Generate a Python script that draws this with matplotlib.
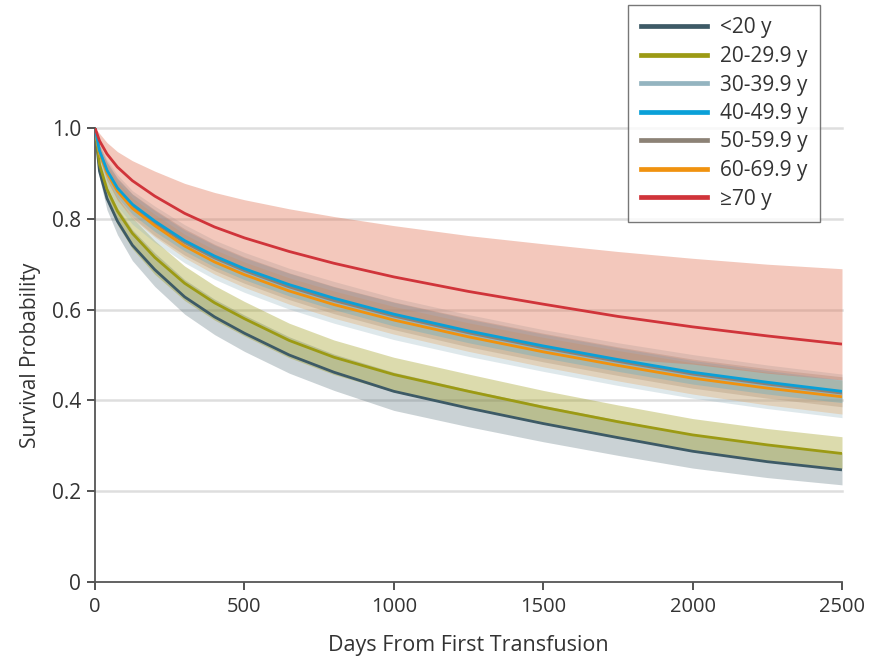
import matplotlib
matplotlib.use("Agg")
import matplotlib.pyplot as plt
import numpy as np

plt.rcParams['font.family'] = ['Open Sans', 'DejaVu Sans']

# --- DATA ---
days = [0, 15, 40, 75, 125, 200, 300, 400, 500, 650, 800, 1000, 1250, 1500, 1750, 2000, 2250, 2500]

labels = ["<20 y", "20-29.9 y", "30-39.9 y", "40-49.9 y", "50-59.9 y", "60-69.9 y", "\u226570 y"]
colors = ["#3d5a66", "#9c9a14", "#94b4c0", "#0aa0d8", "#8c8276", "#f0920f", "#d0343a"]
band_colors = ["#3d5a66", "#9c9a14", "#94b4c0", "#0aa0d8", "#8c8276", "#e8a050", "#e07050"]
band_alpha = [0.27, 0.35, 0.30, 0.20, 0.30, 0.30, 0.38]

surv_lt20 = [1.0, 0.905, 0.845, 0.795, 0.742, 0.688, 0.628, 0.584, 0.548, 0.50, 0.462, 0.42, 0.383, 0.349, 0.318, 0.288, 0.265, 0.247]
surv_20s = [1.0, 0.92, 0.865, 0.817, 0.768, 0.715, 0.658, 0.615, 0.58, 0.532, 0.495, 0.457, 0.42, 0.385, 0.353, 0.324, 0.302, 0.283]
surv_30s = [1.0, 0.945, 0.9, 0.862, 0.825, 0.788, 0.745, 0.71, 0.682, 0.646, 0.616, 0.58, 0.543, 0.51, 0.48, 0.453, 0.43, 0.41]
surv_40s = [1.0, 0.95, 0.907, 0.868, 0.832, 0.795, 0.752, 0.718, 0.69, 0.655, 0.625, 0.59, 0.553, 0.52, 0.49, 0.462, 0.44, 0.42]
surv_50s = [1.0, 0.948, 0.905, 0.866, 0.829, 0.791, 0.748, 0.714, 0.686, 0.65, 0.62, 0.586, 0.549, 0.516, 0.486, 0.458, 0.436, 0.416]
surv_60s = [1.0, 0.945, 0.901, 0.861, 0.823, 0.785, 0.74, 0.705, 0.677, 0.641, 0.611, 0.577, 0.54, 0.507, 0.477, 0.449, 0.427, 0.408]
surv_70p = [1.0, 0.972, 0.943, 0.914, 0.884, 0.85, 0.812, 0.782, 0.758, 0.728, 0.702, 0.672, 0.64, 0.612, 0.585, 0.562, 0.542, 0.524]

lo_lt20 = [1.0, 0.89, 0.82, 0.765, 0.708, 0.651, 0.59, 0.545, 0.508, 0.46, 0.422, 0.378, 0.342, 0.309, 0.279, 0.251, 0.23, 0.214]
hi_lt20 = [1.0, 0.92, 0.87, 0.825, 0.776, 0.725, 0.666, 0.623, 0.588, 0.54, 0.502, 0.462, 0.424, 0.389, 0.357, 0.325, 0.302, 0.285]
lo_20s = [1.0, 0.905, 0.84, 0.787, 0.734, 0.678, 0.62, 0.577, 0.542, 0.494, 0.457, 0.419, 0.383, 0.348, 0.317, 0.289, 0.268, 0.25]
hi_20s = [1.0, 0.935, 0.89, 0.847, 0.802, 0.752, 0.696, 0.653, 0.618, 0.57, 0.533, 0.495, 0.458, 0.422, 0.39, 0.36, 0.338, 0.32]
lo_30s = [1.0, 0.925, 0.87, 0.827, 0.788, 0.748, 0.703, 0.667, 0.638, 0.601, 0.57, 0.534, 0.497, 0.464, 0.433, 0.405, 0.382, 0.362]
hi_30s = [1.0, 0.965, 0.93, 0.897, 0.862, 0.828, 0.787, 0.753, 0.726, 0.691, 0.662, 0.626, 0.589, 0.556, 0.527, 0.501, 0.478, 0.458]
lo_40s = [1.0, 0.94, 0.89, 0.848, 0.81, 0.772, 0.729, 0.694, 0.666, 0.63, 0.6, 0.564, 0.527, 0.494, 0.464, 0.436, 0.414, 0.395]
hi_40s = [1.0, 0.96, 0.924, 0.888, 0.854, 0.818, 0.775, 0.742, 0.714, 0.68, 0.65, 0.616, 0.579, 0.546, 0.516, 0.488, 0.466, 0.445]
lo_50s = [1.0, 0.935, 0.885, 0.842, 0.803, 0.763, 0.72, 0.686, 0.658, 0.622, 0.591, 0.556, 0.518, 0.485, 0.455, 0.427, 0.405, 0.386]
hi_50s = [1.0, 0.962, 0.925, 0.89, 0.855, 0.82, 0.778, 0.744, 0.716, 0.681, 0.651, 0.617, 0.581, 0.548, 0.518, 0.491, 0.47, 0.452]
lo_60s = [1.0, 0.935, 0.885, 0.84, 0.8, 0.76, 0.714, 0.678, 0.649, 0.612, 0.581, 0.546, 0.508, 0.474, 0.443, 0.414, 0.39, 0.37]
hi_60s = [1.0, 0.955, 0.917, 0.882, 0.846, 0.81, 0.766, 0.732, 0.705, 0.67, 0.641, 0.607, 0.571, 0.539, 0.51, 0.483, 0.462, 0.444]
lo_70p = [1.0, 0.952, 0.912, 0.872, 0.834, 0.79, 0.745, 0.71, 0.68, 0.645, 0.615, 0.58, 0.545, 0.515, 0.492, 0.48, 0.46, 0.445]
hi_70p = [1.0, 0.988, 0.968, 0.948, 0.928, 0.905, 0.878, 0.858, 0.842, 0.822, 0.805, 0.785, 0.763, 0.745, 0.728, 0.713, 0.70, 0.69]

surv = [surv_lt20, surv_20s, surv_30s, surv_40s, surv_50s, surv_60s, surv_70p]
lower = [lo_lt20, lo_20s, lo_30s, lo_40s, lo_50s, lo_60s, lo_70p]
upper = [hi_lt20, hi_20s, hi_30s, hi_40s, hi_50s, hi_60s, hi_70p]

# drawing order: keep blue/orange/red lines on top
order = [0, 1, 2, 4, 5, 3, 6]

fig = plt.figure(figsize=(8.69, 6.56), dpi=100)
ax = fig.add_axes([95 / 869, 74 / 656, 747 / 869, 454 / 656])

for i in order:
    ax.fill_between(days, lower[i], upper[i], color=band_colors[i], alpha=band_alpha[i],
                    linewidth=0, zorder=2)
for i in order:
    ax.plot(days, surv[i], color=colors[i], lw=2.0, zorder=3, solid_capstyle='butt')

text_c = "#333333"
ax.set_xlim(0, 2500)
ax.set_ylim(0, 1.0)
ax.set_xticks([0, 500, 1000, 1500, 2000, 2500])
ax.set_yticks([0, 0.2, 0.4, 0.6, 0.8, 1.0])
ax.set_yticklabels(["0", "0.2", "0.4", "0.6", "0.8", "1.0"])
for y in [0.2, 0.4, 0.6, 0.8, 1.0]:
    ax.axhline(y, color="#dedede", lw=1.8, zorder=1, clip_on=False)

for s in ["top", "right"]:
    ax.spines[s].set_visible(False)
for s in ["left", "bottom"]:
    ax.spines[s].set_color("#555555")
    ax.spines[s].set_linewidth(1.3)
ax.tick_params(direction="out", length=6, width=1.3, color="#444444",
               labelcolor=text_c, pad=4)
ax.tick_params(axis="y", labelsize=15)
ax.tick_params(axis="x", labelsize=14.5, pad=5)

ax.set_xlabel("Days From First Transfusion", fontsize=15.5, color=text_c, labelpad=13)
ax.set_ylabel("Survival Probability", fontsize=15, color=text_c, labelpad=8)

leg_lines = [plt.Line2D([], [], color=c, lw=3.4) for c in colors]
leg = fig.legend(leg_lines, labels, loc="upper left", bbox_to_anchor=(628 / 869, 1 - 5 / 656),
                 fontsize=15, frameon=True, fancybox=False, handlelength=3.2,
                 handletextpad=0.6, labelspacing=0.36, borderpad=0.6, borderaxespad=0)
leg.get_frame().set_edgecolor("#555555")
leg.get_frame().set_linewidth(1.0)
for t in leg.get_texts():
    t.set_color(text_c)

fig.savefig("out.png", dpi=100)
